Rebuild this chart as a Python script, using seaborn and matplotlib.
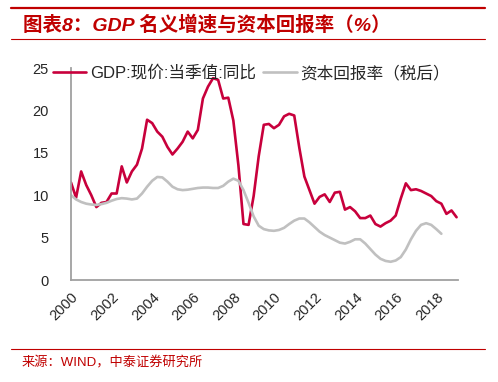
import matplotlib
matplotlib.use("Agg")
import numpy as np
import pandas as pd
import matplotlib.pyplot as plt
import seaborn as sns
from matplotlib.lines import Line2D

# quarterly series starting 2000Q1
gdp_yoy = [11.5, 9.7, 12.8, 11.2, 10.0, 8.6, 9.1, 9.2, 10.2, 10.2,
           13.4, 11.5, 12.8, 13.6, 15.5, 18.9, 18.5, 17.5, 16.9, 15.7,
           14.8, 15.5, 16.3, 17.5, 16.7, 17.7, 21.4, 22.8, 23.8, 23.6,
           21.4, 21.5, 18.8, 13.5, 6.6, 6.5, 9.9, 14.6, 18.3, 18.4,
           17.9, 18.3, 19.3, 19.6, 19.4, 15.6, 12.2, 10.6, 9.0, 9.8,
           10.1, 9.2, 10.3, 10.4, 8.3, 8.6, 8.1, 7.3, 7.3, 7.6,
           6.6, 6.3, 6.7, 7.0, 7.6, 9.6, 11.4, 10.6, 10.7, 10.5,
           10.2, 9.9, 9.3, 9.0, 7.8, 8.2, 7.4]
capital_return = [10.0, 9.5, 9.2, 9.0, 8.9, 8.85, 8.95, 9.1, 9.35, 9.55,
                  9.65, 9.6, 9.5, 9.6, 10.2, 11.0, 11.7, 12.15, 12.1, 11.6,
                  11.0, 10.7, 10.6, 10.65, 10.75, 10.85, 10.9, 10.9, 10.85, 10.85,
                  11.1, 11.6, 11.95, 11.7, 10.6, 9.1, 7.5, 6.4, 6.0, 5.85,
                  5.8, 5.9, 6.15, 6.6, 7.0, 7.25, 7.25, 6.8, 6.25, 5.7,
                  5.3, 5.0, 4.7, 4.4, 4.3, 4.5, 4.8, 4.8, 4.3, 3.65,
                  3.0, 2.5, 2.25, 2.15, 2.3, 2.7, 3.6, 4.8, 5.8, 6.5,
                  6.7, 6.5, 6.0, 5.45]
year_ticks = list(range(2000, 2019, 2))
gdp_label = "GDP:现价:当季值:同比"
ret_label = "资本回报率（税后）"

gdp_df = pd.DataFrame({"t": 2000 + 0.25 * np.arange(len(gdp_yoy)), "v": gdp_yoy})
ret_df = pd.DataFrame({"t": 2000 + 0.25 * np.arange(len(capital_return)), "v": capital_return})

red = "#C8003C"
dark_red = "#C00000"
axis_gray = "#A0A0A0"

sns.set_style("white")
plt.rcParams['font.family'] = ['Liberation Sans', 'Noto Sans CJK SC', 'DejaVu Sans']

fig = plt.figure(figsize=(4.98, 3.82), dpi=100)
ax = fig.add_axes([71 / 498, 1 - 280 / 382, 387 / 498, 212 / 382])

sns.lineplot(data=gdp_df, x="t", y="v", ax=ax, color=red, lw=1.9, label=gdp_label)
sns.lineplot(data=ret_df, x="t", y="v", ax=ax, color="#C0C0C0", lw=1.9, label=ret_label)

ax.set_xlim(2000, 2019.07)
ax.set_ylim(0, 25)
ax.set_xlabel("")
ax.set_ylabel("")
ax.set_xticks(year_ticks)
ax.set_xticklabels([str(y) for y in year_ticks], rotation=45, ha="right",
                   rotation_mode="anchor", fontsize=10.5)
ax.set_yticks([0, 5, 10, 15, 20, 25])
ax.tick_params(axis="y", labelsize=10.5, length=3, color=axis_gray, width=1.3, pad=13)
ax.tick_params(axis="x", length=3, color=axis_gray, width=1.3, pad=4)
for s in ["top", "right"]:
    ax.spines[s].set_visible(False)
for s in ["left", "bottom"]:
    ax.spines[s].set_color(axis_gray)
    ax.spines[s].set_linewidth(1.3)

ax.legend(loc="center left", bbox_to_anchor=(53 / 498, 1 - 73 / 382),
          bbox_transform=fig.transFigure, ncol=2, frameon=False,
          fontsize=12, handlelength=2.0, handletextpad=0.2, columnspacing=0.45,
          borderpad=0, borderaxespad=0)

# header / footer decoration
fig.add_artist(Line2D([11 / 498, 485 / 498], [1 - 8 / 382] * 2, color=dark_red, lw=1.6))
fig.add_artist(Line2D([11 / 498, 485 / 498], [1 - 39 / 382] * 2, color=dark_red, lw=0.8))
fig.add_artist(Line2D([11 / 498, 485 / 498], [1 - 349 / 382] * 2, color=dark_red, lw=0.8))
fig.text(23 / 498, 1 - 25 / 382, "图表8：GDP 名义增速与资本回报率（%）", color=dark_red,
         fontsize=14, fontweight="bold", fontstyle="italic", va="center", ha="left")
fig.text(22 / 498, 1 - 363 / 382, "来源：WIND，中泰证券研究所", color=dark_red,
         fontsize=9.5, va="center", ha="left")

fig.savefig("out.png", dpi=100)
